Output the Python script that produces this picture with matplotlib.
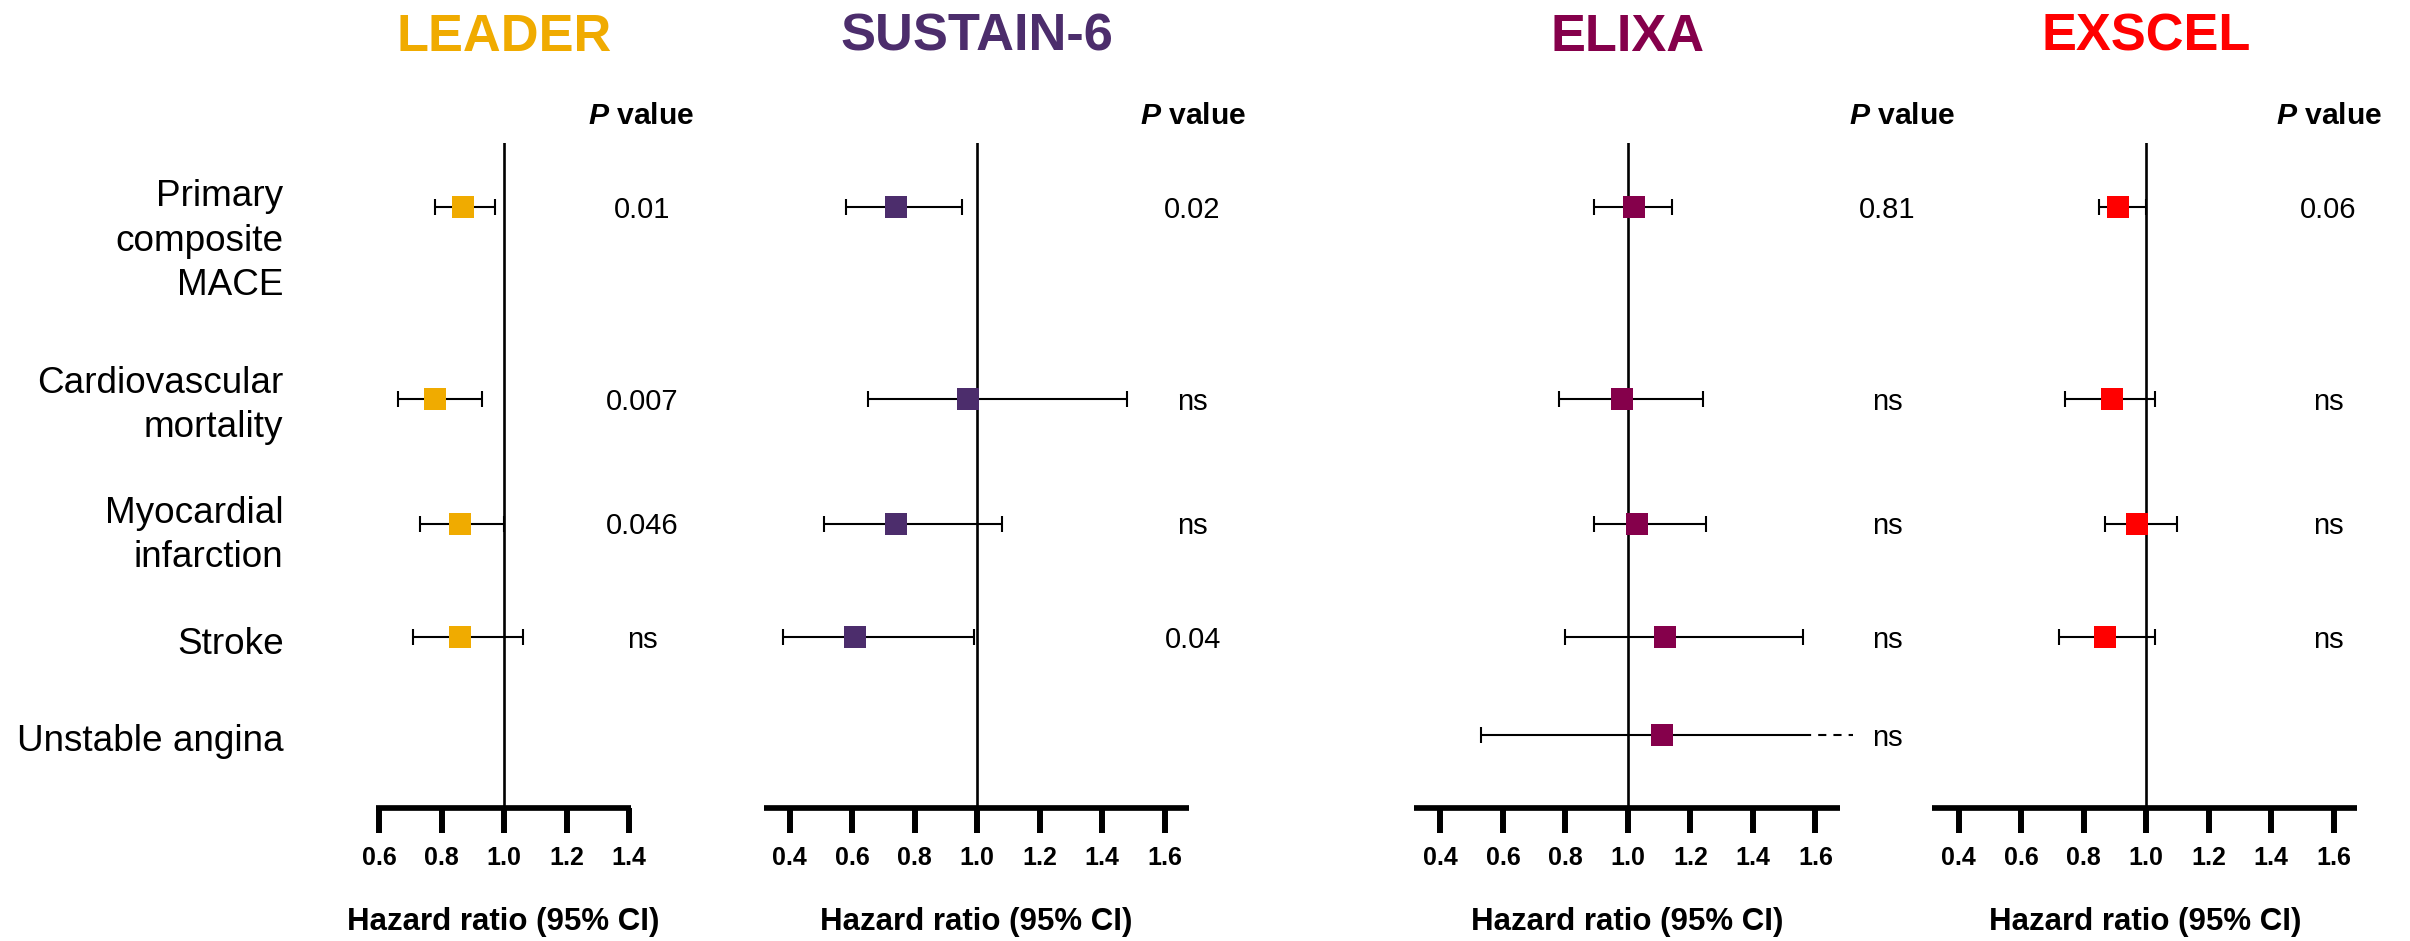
import numpy as np
import matplotlib
matplotlib.use("Agg")
import matplotlib.pyplot as plt
import matplotlib.transforms as mtransforms

plt.rcParams["font.family"] = ["Liberation Sans", "DejaVu Sans"]
plt.rcParams["mathtext.fontset"] = "custom"
plt.rcParams["mathtext.it"] = "Liberation Sans:italic:bold"
plt.rcParams["mathtext.rm"] = "Liberation Sans:bold"

nan = np.nan

# ---------------- data ----------------
outcomes = ["Primary\ncomposite\nMACE", "Cardiovascular\nmortality",
            "Myocardial\ninfarction", "Stroke", "Unstable angina"]
trials = ["LEADER", "SUSTAIN-6", "ELIXA", "EXSCEL"]
trial_colors = ["#F0AB00", "#4C2D6C", "#85004B", "#FF0000"]

leader_hr = [0.87, 0.78, 0.86, 0.86, nan]
leader_lo = [0.78, 0.66, 0.73, 0.71, nan]
leader_hi = [0.97, 0.93, 1.00, 1.06, nan]
leader_p = ["0.01", "0.007", "0.046", "ns", ""]

sustain_hr = [0.74, 0.97, 0.74, 0.61, nan]
sustain_lo = [0.58, 0.65, 0.51, 0.38, nan]
sustain_hi = [0.95, 1.48, 1.08, 0.99, nan]
sustain_p = ["0.02", "ns", "ns", "0.04", ""]

elixa_hr = [1.02, 0.98, 1.03, 1.12, 1.11]
elixa_lo = [0.89, 0.78, 0.89, 0.80, 0.53]
elixa_hi = [1.14, 1.24, 1.25, 1.56, 2.62]
elixa_p = ["0.81", "ns", "ns", "ns", "ns"]

exscel_hr = [0.91, 0.89, 0.97, 0.87, nan]
exscel_lo = [0.85, 0.74, 0.87, 0.72, nan]
exscel_hi = [1.00, 1.03, 1.10, 1.03, nan]
exscel_p = ["0.06", "ns", "ns", "ns", ""]

leader_ticks = [0.6, 0.8, 1.0, 1.2, 1.4]
wide_ticks = [0.4, 0.6, 0.8, 1.0, 1.2, 1.4, 1.6]

x_label = "Hazard ratio (95% CI)"
p_header = r"$P$ value"

panel_data = [
    (leader_hr, leader_lo, leader_hi, leader_p, leader_ticks),
    (sustain_hr, sustain_lo, sustain_hi, sustain_p, wide_ticks),
    (elixa_hr, elixa_lo, elixa_hi, elixa_p, wide_ticks),
    (exscel_hr, exscel_lo, exscel_hi, exscel_p, wide_ticks),
]

# ---------------- layout (figure pixels, y measured from the top) ----------------
W, H, DPI = 2410, 941, 100
PX_PER_UNIT = 312.5
ref_x = [504.1, 977.2, 1627.9, 2146.0]
x_limits = [(0.59, 1.405), (0.317, 1.677), (0.3165, 1.68), (0.316, 1.676)]
AX_TOP, AX_BOTTOM = 142.7, 808.0
ROW_Y = [207.2, 398.8, 523.5, 636.8, 734.8]
LABEL_RIGHT = 283.6
LABEL_LAST_BASELINE = [295.0, 437.0, 567.0, 654.5, 751.0]
TITLE_BASELINE = 50.7
HEADER_BASELINE = 124.0
header_x = [641.0, 1192.7, 1902.0, 2329.0]
pval_x = [642.0, 1192.6, 1887.0, 2328.0]
XLABEL_BASELINE = 930.0
CI_BREAK, DASH_END = 1.56, 1.72

fig = plt.figure(figsize=(W / DPI, H / DPI), dpi=DPI, facecolor="white")
figpx = mtransforms.Affine2D().scale(1.0 / W, -1.0 / H).translate(0, 1) + fig.transFigure

# outcome labels on the left
for lab, yb in zip(outcomes, LABEL_LAST_BASELINE):
    fig.text(LABEL_RIGHT, yb, lab, transform=figpx, ha="right", va="baseline",
             multialignment="right", fontsize=26.6, linespacing=1.35, color="black")

for k, (name, color) in enumerate(zip(trials, trial_colors)):
    hr, lo, hi, pv, ticks = panel_data[k]
    x0, x1 = x_limits[k]
    left = ref_x[k] + (x0 - 1.0) * PX_PER_UNIT
    right = ref_x[k] + (x1 - 1.0) * PX_PER_UNIT
    ax = fig.add_axes([left / W, 1 - AX_BOTTOM / H, (right - left) / W,
                       (AX_BOTTOM - AX_TOP) / H])
    ax.set_xlim(x0, x1)
    ax.set_ylim(AX_BOTTOM, AX_TOP)
    ax.patch.set_visible(False)
    for s in ("left", "right", "top"):
        ax.spines[s].set_visible(False)
    ax.spines["bottom"].set_linewidth(4.1)
    ax.spines["bottom"].set_capstyle("butt")
    ax.set_yticks([])
    ax.set_xticks(ticks, labels=[f"{t:.1f}" for t in ticks], fontweight="bold")
    ax.tick_params(axis="x", direction="out", length=18.2, width=4.3, pad=9.0,
                   labelsize=18, colors="black")

    # line of no effect
    ax.axvline(1.0, color="black", lw=1.9, zorder=1)

    hr_a, lo_a, hi_a = np.array(hr), np.array(lo), np.array(hi)
    rows = np.array(ROW_Y)
    ok = ~np.isnan(hr_a)
    inside = ok & (hi_a <= CI_BREAK)
    off = ok & (hi_a > CI_BREAK)

    eb_kw = dict(fmt="none", ecolor="black", elinewidth=1.5, capsize=5.6,
                 capthick=1.5, zorder=2)
    ax.errorbar(hr_a[inside], rows[inside],
                xerr=[hr_a[inside] - lo_a[inside], hi_a[inside] - hr_a[inside]], **eb_kw)
    if off.any():
        # upper limit beyond the scale: solid to the break, dashed past it
        ax.errorbar(hr_a[off], rows[off],
                    xerr=[hr_a[off] - lo_a[off], np.zeros(off.sum())], **eb_kw)
        ax.hlines(rows[off], hr_a[off], CI_BREAK, color="black", lw=1.5, zorder=2)
        ax.hlines(rows[off], CI_BREAK, DASH_END, color="black", lw=1.5,
                  linestyles=(0, (3.9, 3.4)), zorder=2, clip_on=False)

    ax.plot(hr_a[ok], rows[ok], linestyle="none", marker="s", markersize=15.8,
            markerfacecolor=color, markeredgewidth=0, zorder=3)

    # trial name above the line of no effect
    title_tr = mtransforms.blended_transform_factory(ax.transData, figpx)
    fig.text(1.0, TITLE_BASELINE, name, transform=title_tr, ha="center",
             va="baseline", fontsize=37.7, fontweight="bold", color=color)

    # axis title
    xl_tr = mtransforms.blended_transform_factory(ax.transAxes, figpx)
    fig.text(0.5, XLABEL_BASELINE, x_label, transform=xl_tr, ha="center",
             va="baseline", fontsize=22.5, fontweight="bold", color="black")

    # P value column
    fig.text(header_x[k], HEADER_BASELINE, p_header, transform=figpx, ha="center",
             va="baseline", fontsize=21.7, fontweight="bold", color="black")
    for txt, y in zip(pv, ROW_Y):
        if txt:
            fig.text(pval_x[k], y + 10.8, txt, transform=figpx, ha="center",
                     va="baseline", fontsize=21, color="black")

fig.savefig("out.png", dpi=DPI, facecolor="white")
